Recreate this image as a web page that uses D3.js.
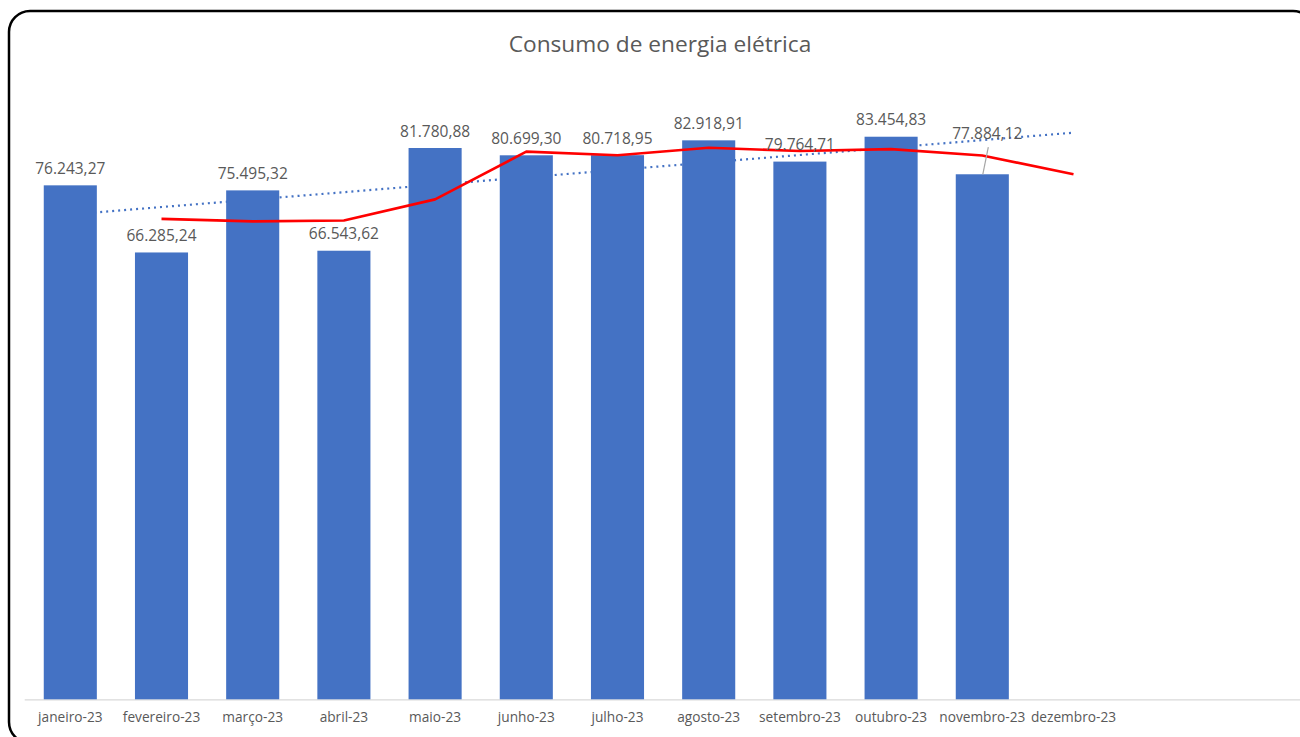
<!DOCTYPE html>
<html>
<head>
<meta charset="utf-8">
<script src="https://cdn.jsdelivr.net/npm/d3@7"></script>
<style>
  html, body { margin: 0; padding: 0; background: #fff; }
  svg { display: block; }
  text { font-family: "Open Sans", "Noto Sans", sans-serif; }
</style>
</head>
<body>
<svg id="chart" width="1300" height="737"></svg>
<script>
// ---- data ----
const title = "Consumo de energia elétrica";
const categories = ["janeiro-23","fevereiro-23","março-23","abril-23","maio-23","junho-23",
                    "julho-23","agosto-23","setembro-23","outubro-23","novembro-23","dezembro-23"];
const consumo = [76243.27, 66285.24, 75495.32, 66543.62, 81780.88, 80699.30,
                 80718.95, 82918.91, 79764.71, 83454.83, 77884.12, null];
const yDomain = [0, 90000];
const movingAvgPeriod = 2;

// ---- layout ----
const W = 1300, H = 737;
const plot = { left: 24.7, right: 1119.1, top: 92.6, bottom: 699.3 };

const svg = d3.select("#chart");

// chart border
svg.append("rect")
  .attr("x", 9).attr("y", 11).attr("width", 1305).attr("height", 732)
  .attr("rx", 21).attr("ry", 21)
  .attr("fill", "#fff").attr("stroke", "#000").attr("stroke-width", 2.5);

const x = d3.scaleBand().domain(categories).range([plot.left, plot.right])
  .paddingInner(0.418).paddingOuter(0.209);
const y = d3.scaleLinear().domain(yDomain).range([plot.bottom, plot.top]);
const cx = c => x(c) + x.bandwidth() / 2;

// title
svg.append("text")
  .attr("x", 660).attr("y", 52)
  .attr("text-anchor", "middle")
  .attr("font-size", 22.7).attr("fill", "#595959")
  .text(title);

// linear trendline (least squares on available points)
const pts = consumo.map((v, i) => ({ i: i + 1, v })).filter(d => d.v != null);
const mx = d3.mean(pts, d => d.i), my = d3.mean(pts, d => d.v);
const slope = d3.sum(pts, d => (d.i - mx) * (d.v - my)) / d3.sum(pts, d => (d.i - mx) ** 2);
const icpt = my - slope * mx;
const trend = categories.map((c, k) => ({ c, v: icpt + slope * (k + 1) }));
const tEnds = [trend[0], trend[trend.length - 1]];
svg.append("path")
  .datum(tEnds)
  .attr("d", d3.line().x(d => cx(d.c)).y(d => y(d.v)))
  .attr("fill", "none").attr("stroke", "#4472C4")
  .attr("stroke-width", 2.2).attr("stroke-dasharray", "2 4");

// x axis
const axis = svg.append("g")
  .attr("transform", `translate(0,${plot.bottom})`)
  .call(d3.axisBottom(x).tickSize(0).tickPadding(10).tickSizeOuter(0));
axis.select(".domain").attr("stroke", "#d9d9d9").attr("stroke-width", 1.3)
  .attr("d", `M${plot.left},0.5H${W}`);
axis.selectAll("text").attr("font-size", 13.7).attr("fill", "#595959")
  .attr("font-family", "'Open Sans', sans-serif").attr("dy", "0.9em");

// bars
const barData = categories.map((c, i) => ({ c, v: consumo[i] })).filter(d => d.v != null);
svg.append("g").selectAll("rect").data(barData).join("rect")
  .attr("x", d => x(d.c)).attr("width", x.bandwidth())
  .attr("y", d => y(d.v)).attr("height", d => y(0) - y(d.v))
  .attr("fill", "#4472C4");

// moving average (period 2)
const ma = [];
for (let i = movingAvgPeriod - 1; i < consumo.length; i++) {
  const win = consumo.slice(i - movingAvgPeriod + 1, i + 1).filter(v => v != null);
  if (win.length) ma.push({ c: categories[i], v: d3.mean(win) });
}
svg.append("path")
  .datum(ma)
  .attr("d", d3.line().x(d => cx(d.c)).y(d => y(d.v)))
  .attr("fill", "none").attr("stroke", "#FF0000").attr("stroke-width", 2.6)
  .attr("stroke-linejoin", "round");

// data labels
const fmt = v => v.toLocaleString("pt-BR", { minimumFractionDigits: 2, maximumFractionDigits: 2 });
const moved = { "novembro-23": { dx: 5, dy: -23.7 } };
const lbl = svg.append("g");
barData.forEach(d => {
  const off = moved[d.c] || { dx: 0, dy: 0 };
  const lx = cx(d.c) + off.dx, ly = y(d.v) - 11.5 + off.dy;
  if (moved[d.c]) {
    lbl.append("line")
      .attr("x1", lx + 1).attr("y1", ly + 8)
      .attr("x2", cx(d.c) + 0.5).attr("y2", y(d.v))
      .attr("stroke", "#a6a6a6").attr("stroke-width", 1.2);
  }
  lbl.append("text")
    .attr("x", lx).attr("y", ly)
    .attr("text-anchor", "middle")
    .attr("font-size", 15.5).attr("fill", "#595959")
    .text(fmt(d.v));
});
</script>
</body>
</html>
